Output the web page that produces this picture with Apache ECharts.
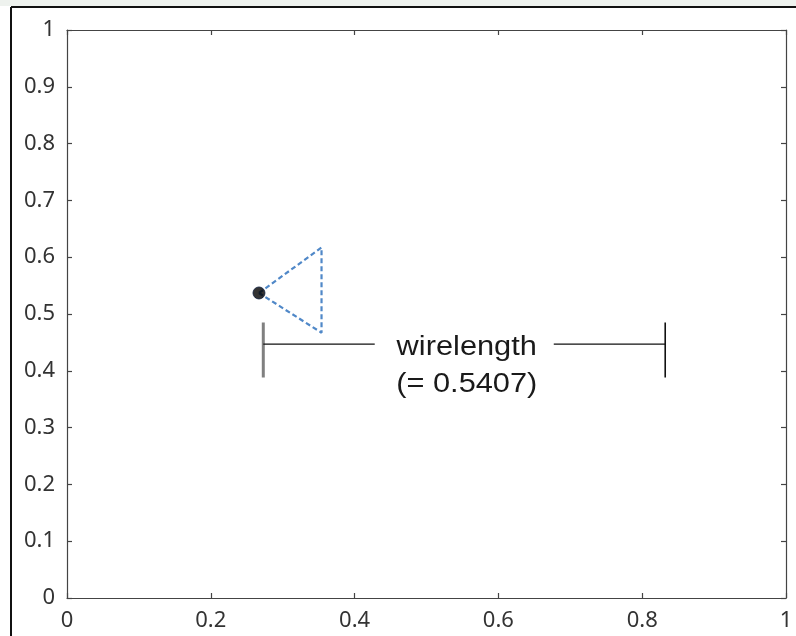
<!DOCTYPE html>
<html><head><meta charset="utf-8">
<script src="https://cdn.jsdelivr.net/npm/echarts@6/dist/echarts.min.js"></script>
<style>html,body{margin:0;padding:0;background:#fff}#c{width:796px;height:636px}</style>
</head><body><div id="c"></div>
<script>
const xTickValues = [0, 0.2, 0.4, 0.6, 0.8, 1];
const yTickStep = 0.1;
const pinPoint = [0.267, 0.537];
const triangleX = [0.267, 0.354, 0.354, 0.267];
const triangleY = [0.537, 0.617, 0.467, 0.537];
const dimLeftX = 0.273;
const dimRightX = 0.832;
const dimLineY = 0.447;
const dimBarY = [0.388, 0.485];
const dimGapX = [0.428, 0.677];
const labelPos = [0.556, 0.408];
const labelText = ['wirelength', '(= 0.5407)'];

const chart = echarts.init(document.getElementById('c'));
const axisCol = '#444';
const baseX = {
  type: 'value', min: 0, max: 1, interval: 0.2,
  axisLine: {show: true, onZero: false, lineStyle: {color: axisCol, width: 1.2}},
  axisTick: {show: true, inside: true, length: 5, lineStyle: {color: axisCol, width: 1.2}},
  splitLine: {show: false}
};
const baseY = Object.assign({}, baseX, {interval: yTickStep});
const lbl = {color: '#333', fontFamily: 'Noto Sans', fontSize: 22, margin: 12};
function seg(xs, ys, style) {
  return {type: 'line', symbol: 'none', silent: true, animation: false,
    data: xs.map((x, i) => [x, ys[i]]), lineStyle: style, z: 3};
}
const frame = [
  {type: 'rect', shape: {x: 0, y: 0, width: 796, height: 6}, style: {fill: '#eef2ee'}, silent: true},
  {type: 'line', shape: {x1: 11, y1: 7, x2: 796, y2: 7}, style: {stroke: '#111', lineWidth: 2}, silent: true},
  {type: 'line', shape: {x1: 11, y1: 7, x2: 11, y2: 636}, style: {stroke: '#111', lineWidth: 2}, silent: true}
];
chart.setOption({
  animation: false,
  grid: {left: 67, top: 30, right: 10, bottom: 38},
  xAxis: [
    Object.assign({}, baseX, {position: 'bottom', axisLabel: lbl}),
    Object.assign({}, baseX, {position: 'top', axisLabel: {show: false}})
  ],
  yAxis: [
    Object.assign({}, baseY, {position: 'left', axisLabel: lbl}),
    Object.assign({}, baseY, {position: 'right', axisLabel: {show: false}})
  ],
  graphic: frame,
  series: [
    seg(triangleX, triangleY, {color: '#5088c8', width: 2.2, type: [5, 3]}),
    seg([dimLeftX, dimLeftX], dimBarY, {color: '#808080', width: 3}),
    seg([dimRightX, dimRightX], dimBarY, {color: '#111', width: 1.6}),
    seg([dimLeftX, dimGapX[0]], [dimLineY, dimLineY], {color: '#111', width: 1.4}),
    seg([dimGapX[1], dimRightX], [dimLineY, dimLineY], {color: '#111', width: 1.4}),
    {type: 'scatter', data: [pinPoint], symbolSize: 12, itemStyle: {color: '#000', borderColor: '#0a1a3a', borderWidth: 1}, z: 5}
  ]
});
const p = chart.convertToPixel({gridIndex: 0}, labelPos);
chart.setOption({
  graphic: frame.concat([{
    type: 'text', x: p[0], y: p[1], scaleX: 1.14, scaleY: 1, z: 10, silent: true,
    style: {text: labelText.join('\n'), x: 0, y: 0, align: 'center', verticalAlign: 'middle',
      fontFamily: 'Liberation Sans', fontSize: 27, lineHeight: 37, fill: '#1a1a1a'}
  }])
});
</script></body></html>
